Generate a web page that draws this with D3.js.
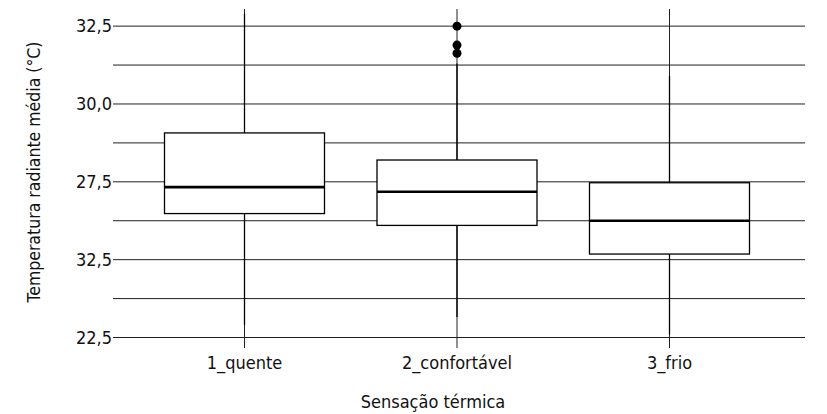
<!DOCTYPE html>
<html>
<head>
<meta charset="utf-8">
<script src="https://cdn.jsdelivr.net/npm/d3@7"></script>
<style>
  html, body { margin: 0; padding: 0; background: #fff; }
  svg text { font-family: "Liberation Sans Narrow", "DejaVu Sans Condensed", "Roboto", sans-serif; fill: #111; }
</style>
</head>
<body>
<svg id="chart" width="827" height="414"></svg>
<script>
// Thermal sensation categories and their box statistics (°C)
const categories = ["1_quente", "2_confortável", "3_frio"];
const whiskerLow  = [22.9, 23.16, 22.6];
const boxQ1       = [26.48, 26.1, 25.18];
const boxMedian   = [27.33, 27.18, 26.25];
const boxQ3       = [29.07, 28.2, 27.47];
const whiskerHigh = [32.9, 31.3, 30.9];
// Outliers: [category, value]
const outliers = [["2_confortável", 32.5], ["2_confortável", 31.89], ["2_confortável", 31.63]];

// Y axis ticks as printed on the axis
const yTickValues = [22.5, 25, 27.5, 30, 32.5];
const yTickLabels = ["22,5", "32,5", "27,5", "30,0", "32,5"];
const yMinorValues = [23.75, 26.25, 28.75, 31.25];

const xTitle = "Sensação térmica";
const yTitle = "Temperatura radiante média (°C)";

const svg = d3.select("#chart");
const padLeft = 113, padRight = 805, padTop = 9, padBottom = 337.5;

const x = d3.scalePoint().domain(categories).range([244.5, 669.5]);
const y = d3.scaleLinear().domain([22.5, 33.05]).range([padBottom, padTop]);
const boxW = 160;
const gridColor = "#202020";

// horizontal grid (major + minor)
svg.append("g").selectAll("line")
  .data(yTickValues.concat(yMinorValues))
  .join("line")
  .attr("x1", padLeft).attr("x2", padRight)
  .attr("y1", d => y(d)).attr("y2", d => y(d))
  .attr("stroke", gridColor).attr("stroke-width", 1);

// vertical grid at each category, extending into the tick marks
svg.append("g").selectAll("line")
  .data(categories)
  .join("line")
  .attr("x1", d => x(d)).attr("x2", d => x(d))
  .attr("y1", padTop).attr("y2", padBottom + 10.5)
  .attr("stroke", gridColor).attr("stroke-width", 1);

// y tick labels
svg.append("g").selectAll("text")
  .data(yTickValues)
  .join("text")
  .attr("x", padLeft - 1)
  .attr("y", d => y(d))
  .attr("dy", "0.35em")
  .attr("text-anchor", "end")
  .attr("font-size", 18)
  .text((d, i) => yTickLabels[i]);

// x tick labels
svg.append("g").selectAll("text")
  .data(categories)
  .join("text")
  .attr("x", d => x(d))
  .attr("y", 369)
  .attr("text-anchor", "middle")
  .attr("font-size", 18)
  .text(d => d);

// boxes
const stats = categories.map((c, i) => ({
  c, lo: whiskerLow[i], q1: boxQ1[i], med: boxMedian[i], q3: boxQ3[i], hi: whiskerHigh[i]
}));
const g = svg.append("g").selectAll("g").data(stats).join("g");

g.append("line")
  .attr("x1", d => x(d.c)).attr("x2", d => x(d.c))
  .attr("y1", d => y(d.hi)).attr("y2", d => y(d.q3))
  .attr("stroke", "#000").attr("stroke-width", 1.3);
g.append("line")
  .attr("x1", d => x(d.c)).attr("x2", d => x(d.c))
  .attr("y1", d => y(d.q1)).attr("y2", d => y(d.lo))
  .attr("stroke", "#000").attr("stroke-width", 1.3);
g.append("rect")
  .attr("x", d => x(d.c) - boxW / 2)
  .attr("width", boxW)
  .attr("y", d => y(d.q3))
  .attr("height", d => y(d.q1) - y(d.q3))
  .attr("fill", "#fff")
  .attr("stroke", "#000").attr("stroke-width", 1.3);
g.append("line")
  .attr("x1", d => x(d.c) - boxW / 2).attr("x2", d => x(d.c) + boxW / 2)
  .attr("y1", d => y(d.med)).attr("y2", d => y(d.med))
  .attr("stroke", "#000").attr("stroke-width", 2.6);

// outlier points
svg.append("g").selectAll("circle")
  .data(outliers)
  .join("circle")
  .attr("cx", d => x(d[0]))
  .attr("cy", d => y(d[1]))
  .attr("r", 4.5)
  .attr("fill", "#000");

// axis titles
svg.append("text")
  .attr("x", 433).attr("y", 408)
  .attr("text-anchor", "middle")
  .attr("font-size", 18)
  .text(xTitle);
svg.append("text")
  .attr("transform", "translate(40,172) rotate(-90)")
  .attr("text-anchor", "middle")
  .attr("font-size", 17.5)
  .text(yTitle);
</script>
</body>
</html>
